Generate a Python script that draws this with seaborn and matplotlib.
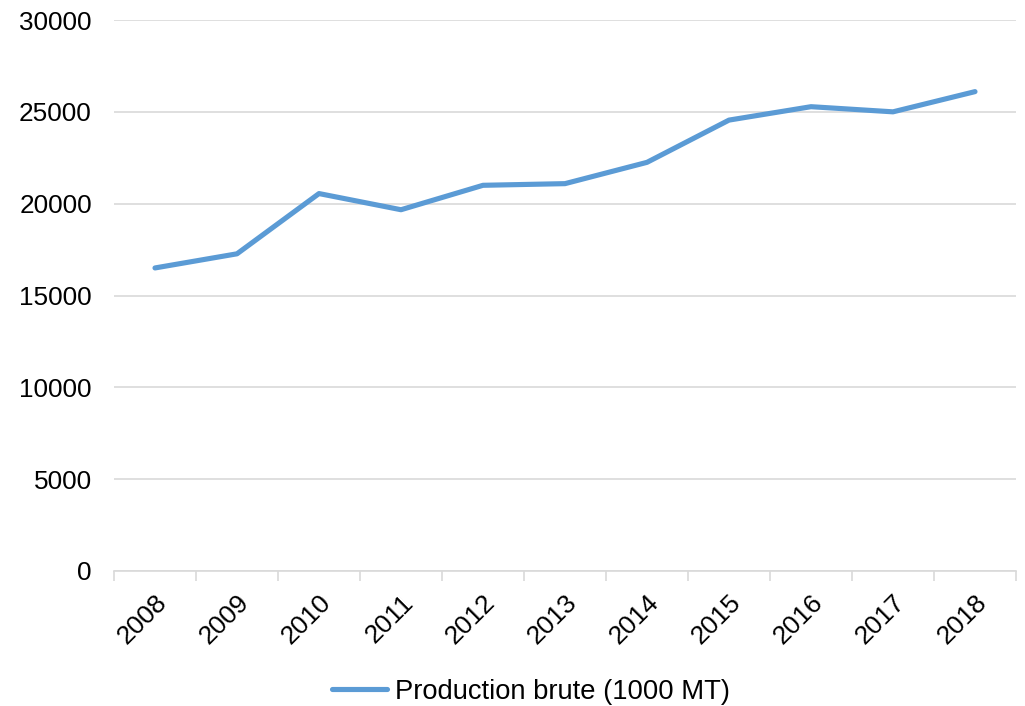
import matplotlib
matplotlib.use("Agg")
import matplotlib.pyplot as plt
import matplotlib.transforms as mtransforms
import seaborn as sns
import pandas as pd
import numpy as np
from matplotlib.ticker import FixedLocator

years = ["2008", "2009", "2010", "2011", "2012", "2013", "2014", "2015", "2016", "2017", "2018"]
production = [16500, 17270, 20550, 19670, 21000, 21090, 22250, 24550, 25280, 25000, 26100]
series_name = "Production brute (1000 MT)"
yticks = [0, 5000, 10000, 15000, 20000, 25000, 30000]

sns.set_style("white")
plt.rcParams["font.family"] = ["Liberation Sans", "DejaVu Sans"]

df = pd.DataFrame({"year": years, "value": production, "series": series_name})
df["pos"] = np.arange(len(years))

fig = plt.figure(figsize=(10.25, 7.06), dpi=100)
ax = fig.add_axes([114 / 1025, 1 - 571 / 706, (1016 - 114) / 1025, (571 - 20) / 706])

sns.lineplot(data=df, x="pos", y="value", hue="series", palette=["#5b9bd5"],
             linewidth=3.7, ax=ax, legend=True, solid_capstyle="round")

ax.set_xlim(-0.5, len(years) - 0.5)
ax.set_ylim(0, 30000)
ax.set_yticks(yticks)
ax.set_yticklabels([str(v) for v in yticks], fontsize=18.8, color="black")
ax.grid(axis="y", color="#d9d9d9", linewidth=1.2)
ax.set_axisbelow(True)
for s in ["top", "right", "left"]:
    ax.spines[s].set_visible(False)
ax.spines["bottom"].set_color("#d9d9d9")
ax.spines["bottom"].set_linewidth(1.2)

ax.set_xticks(np.arange(len(years)))
ax.set_xticklabels(years, fontsize=19, rotation=45, ha="right", rotation_mode="anchor", color="black")
offset = mtransforms.ScaledTranslation(-5 / 100, 0, fig.dpi_scale_trans)
for lab in ax.get_xticklabels():
    lab.set_transform(lab.get_transform() + offset)
ax.tick_params(axis="x", which="major", length=0, pad=14)
ax.xaxis.set_minor_locator(FixedLocator(np.arange(-0.5, len(years), 1.0)))
ax.tick_params(axis="x", which="minor", bottom=True, length=7, width=1.2, color="#d9d9d9", direction="out")
ax.tick_params(axis="y", length=0, pad=16)
ax.set_xlabel("")
ax.set_ylabel("")

h, l = ax.get_legend_handles_labels()
ax.legend_.remove()
fig.legend(h, l, loc="center", bbox_to_anchor=(531 / 1025, 1 - 692 / 706), frameon=False,
           fontsize=19.7, handlelength=2.0, handletextpad=0.3, labelcolor="black")

fig.savefig("out.png", dpi=100)
